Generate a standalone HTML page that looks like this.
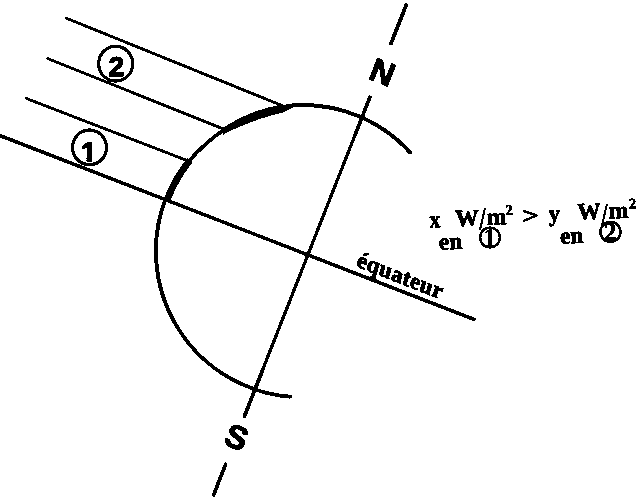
<!DOCTYPE html>
<html lang="fr">
<head>
<meta charset="utf-8">
<title>Schéma : énergie solaire reçue selon la latitude</title>
<style>
html,body{margin:0;padding:0;background:#fff;}
body{width:640px;height:500px;overflow:hidden;}
svg{display:block;}
</style>
</head>
<body>
<svg width="640" height="500" viewBox="0 0 640 500">
<filter id="bw" filterUnits="userSpaceOnUse" x="0" y="0" width="640" height="500" color-interpolation-filters="sRGB">
<feComponentTransfer>
<feFuncR type="discrete" tableValues="0 0 0 1 1"/>
<feFuncG type="discrete" tableValues="0 0 0 1 1"/>
<feFuncB type="discrete" tableValues="0 0 0 1 1"/>
</feComponentTransfer>
</filter>
<g filter="url(#bw)">
<rect width="640" height="500" fill="#fff"/>
<defs><clipPath id="nofoot"><path d="M-20 -40H20V-3.6H3.3V2H-1.9V-3.6H-20Z"/></clipPath></defs>
<g fill="none" stroke="#000" stroke-width="3.5" stroke-linecap="round">
<line x1="66.5" y1="18.2" x2="282" y2="105.6" stroke-width="2.7"/>
<line x1="47.6" y1="58.4" x2="224" y2="129.2" stroke-width="2.7"/>
<line x1="26.5" y1="98.4" x2="189" y2="161.2" stroke-width="2.7"/>
<line x1="1.4" y1="136.05" x2="474" y2="319.3" stroke-width="3.4"/>
<line x1="406.3" y1="4.8" x2="391" y2="43.5" stroke-width="3.6"/>
<line x1="369.9" y1="97.2" x2="244.5" y2="416" stroke-width="3.1"/>
<line x1="369.9" y1="97.2" x2="356.1" y2="132.3" stroke-width="3.3"/>
<line x1="262.2" y1="371" x2="244.5" y2="416" stroke-width="3.5"/>
<line x1="225.7" y1="464.2" x2="213.6" y2="495" stroke-width="3.5"/>
<path d="M410.06 152.42A146.20 146.20 0 0 0 293.50 105.05" stroke-width="3.7"/>
<path d="M223.2 130.2Q205.5 142.3 189.4 160.4" stroke-width="3.5"/>
<path d="M165.55 198.75A146.20 146.20 0 0 0 290.17 396.71" stroke-width="3.7"/>
<path d="M163.9 198.8L164.4 197.7L164.8 196.6L165.2 195.5L165.7 194.4L166.1 193.3L166.6 192.2L167.1 191.1L167.6 190.1L168.0 189.0L168.5 187.9L169.1 186.9L169.6 185.8L170.1 184.7L170.6 183.7L171.2 182.6L171.7 181.6L172.3 180.5L172.9 179.5L173.4 178.5L174.0 177.5L174.6 176.4L175.2 175.4L175.8 174.4L176.4 173.4L177.1 172.4L177.7 171.4L178.3 170.4L179.0 169.4L179.6 168.4L180.3 167.5L181.0 166.5L181.6 165.5L182.3 164.6L183.0 163.6L183.7 162.7L184.4 161.7L185.2 160.8L185.9 159.8L186.6 158.9L187.4 158.0L192.6 162.3L191.9 163.2L191.2 164.0L190.5 164.9L189.9 165.8L189.2 166.7L188.5 167.6L187.8 168.5L187.2 169.5L186.5 170.4L185.9 171.3L185.3 172.2L184.6 173.2L184.0 174.1L183.4 175.1L182.8 176.0L182.2 177.0L181.6 177.9L181.0 178.9L180.5 179.9L179.9 180.8L179.4 181.8L178.8 182.8L178.3 183.8L177.7 184.8L177.2 185.8L176.7 186.8L176.2 187.8L175.7 188.8L175.2 189.8L174.7 190.8L174.2 191.8L173.7 192.9L173.3 193.9L172.8 194.9L172.4 196.0L172.0 197.0L171.5 198.0L171.1 199.1L170.7 200.1L170.3 201.2Z" fill="#000" stroke="none"/>
<path d="M221.8 128.6L224.3 127.0L226.8 125.5L229.3 124.0L231.8 122.6L234.3 121.2L236.9 119.8L239.4 118.6L241.9 117.3L244.4 116.2L246.9 115.0L249.4 114.0L251.9 113.0L254.4 112.0L256.9 111.1L259.4 110.2L261.9 109.4L264.4 108.7L266.9 108.0L269.5 107.3L272.0 106.7L274.5 106.2L277.0 105.7L279.5 105.3L282.0 104.9L287.0 104.4L294.5 104.2L295.0 106.6L290.7 108.8L286.0 111.0L282.0 112.7L279.5 113.3L277.0 113.9L274.5 114.6L272.0 115.2L269.5 116.0L266.9 116.7L264.4 117.5L261.9 118.3L259.4 119.1L256.9 120.0L254.4 120.9L251.9 121.8L249.4 122.7L246.9 123.7L244.4 124.7L241.9 125.8L239.4 126.8L236.9 127.9L234.3 129.0L231.8 130.2L229.3 131.4L226.8 132.6L224.3 133.9L223.3 134.8Z" fill="#000" stroke="none"/>
<ellipse cx="115.7" cy="63.7" rx="17" ry="17.4" stroke-width="3"/>
<ellipse cx="89.5" cy="147.4" rx="17" ry="17.3" stroke-width="3"/>
<circle cx="490" cy="237.5" r="9.9" stroke-width="2.3"/>
<circle cx="610.4" cy="231.9" r="10.05" stroke-width="2.4"/>
</g>
<g fill="#000">
<text transform="translate(378.4 82.9) rotate(21.5)" font-family="'Liberation Sans', sans-serif" font-size="33" font-weight="bold" text-anchor="middle" stroke="#000" stroke-width="1.0" stroke-linejoin="round">N</text>
<text transform="translate(232.4 447.9) rotate(21.5)" font-family="'Liberation Sans', sans-serif" font-size="33" font-weight="bold" text-anchor="middle" stroke="#000" stroke-width="1.0" stroke-linejoin="round">S</text>
<text transform="translate(116.5 76.0)" font-family="'Liberation Sans', sans-serif" font-size="28.5" font-weight="bold" text-anchor="middle" stroke="#000" stroke-width="1.0" stroke-linejoin="round">2</text>
<text transform="translate(88.6 161.1)" font-family="'Liberation Sans', sans-serif" font-size="26.6" font-weight="bold" text-anchor="middle" stroke="#000" stroke-width="1.3" stroke-linejoin="round" clip-path="url(#nofoot)">1</text>
<text transform="translate(355.7 266.2) rotate(21.3) skewX(5)" font-family="'Liberation Serif', serif" font-size="23.2" font-weight="bold" text-anchor="start" stroke="#000" stroke-width="0.8" stroke-linejoin="round" letter-spacing="0.3">équateur</text>
<text transform="translate(429.7 227.5) rotate(-2) scale(0.92 1)" font-family="'Liberation Serif', serif" font-size="23.5" font-weight="bold" text-anchor="start" stroke="#000" stroke-width="0.6" stroke-linejoin="round">x</text>
<text transform="translate(455.4 226.3) rotate(-2)" font-family="'Liberation Serif', serif" font-size="23.5" font-weight="bold" text-anchor="start" stroke="#000" stroke-width="0.6" stroke-linejoin="round">W</text>
<text transform="translate(479.3 229.6) rotate(-6)" font-family="'Liberation Serif', serif" font-size="31" font-weight="normal" text-anchor="start" stroke="#000" stroke-width="0.3" stroke-linejoin="round">/</text>
<text transform="translate(487.0 224.7) rotate(-2)" font-family="'Liberation Serif', serif" font-size="23.5" font-weight="bold" text-anchor="start" stroke="#000" stroke-width="0.6" stroke-linejoin="round">m</text>
<text transform="translate(505.8 214.8) rotate(-2)" font-family="'Liberation Serif', serif" font-size="14.5" font-weight="bold" text-anchor="start" stroke="#000" stroke-width="0.4" stroke-linejoin="round">2</text>
<text transform="translate(522.5 223.5) rotate(-2) scale(1.2 0.95)" font-family="'Liberation Serif', serif" font-size="24" font-weight="bold" text-anchor="start" stroke="#000" stroke-width="0.8" stroke-linejoin="round">&gt;</text>
<text transform="translate(549.1 221.3) rotate(-2) scale(0.95 0.97)" font-family="'Liberation Serif', serif" font-size="23.5" font-weight="bold" text-anchor="start" stroke="#000" stroke-width="0.6" stroke-linejoin="round">y</text>
<text transform="translate(577.4 219.5) rotate(-2)" font-family="'Liberation Serif', serif" font-size="23.5" font-weight="bold" text-anchor="start" stroke="#000" stroke-width="0.6" stroke-linejoin="round">W</text>
<text transform="translate(601.2 225.0) rotate(-6)" font-family="'Liberation Serif', serif" font-size="31" font-weight="normal" text-anchor="start" stroke="#000" stroke-width="0.3" stroke-linejoin="round">/</text>
<text transform="translate(609.0 218.5) rotate(-2)" font-family="'Liberation Serif', serif" font-size="23.5" font-weight="bold" text-anchor="start" stroke="#000" stroke-width="0.6" stroke-linejoin="round">m</text>
<text transform="translate(628.9 208.6) rotate(-2)" font-family="'Liberation Serif', serif" font-size="14.5" font-weight="bold" text-anchor="start" stroke="#000" stroke-width="0.4" stroke-linejoin="round">2</text>
<text transform="translate(439.0 249.7) rotate(-2)" font-family="'Liberation Serif', serif" font-size="23.5" font-weight="bold" text-anchor="start" stroke="#000" stroke-width="0.6" stroke-linejoin="round">en</text>
<text transform="translate(560.2 243.7) rotate(-2)" font-family="'Liberation Serif', serif" font-size="23.5" font-weight="bold" text-anchor="start" stroke="#000" stroke-width="0.6" stroke-linejoin="round">en</text>
<text transform="translate(490.0 246.3) rotate(-2)" font-family="'Liberation Serif', serif" font-size="26" font-weight="bold" text-anchor="middle">1</text>
<text transform="translate(610.6 240.6) rotate(-2)" font-family="'Liberation Serif', serif" font-size="26" font-weight="bold" text-anchor="middle" stroke="#000" stroke-width="0.4" stroke-linejoin="round">2</text>
</g>
</g>
</svg>
</body>
</html>
